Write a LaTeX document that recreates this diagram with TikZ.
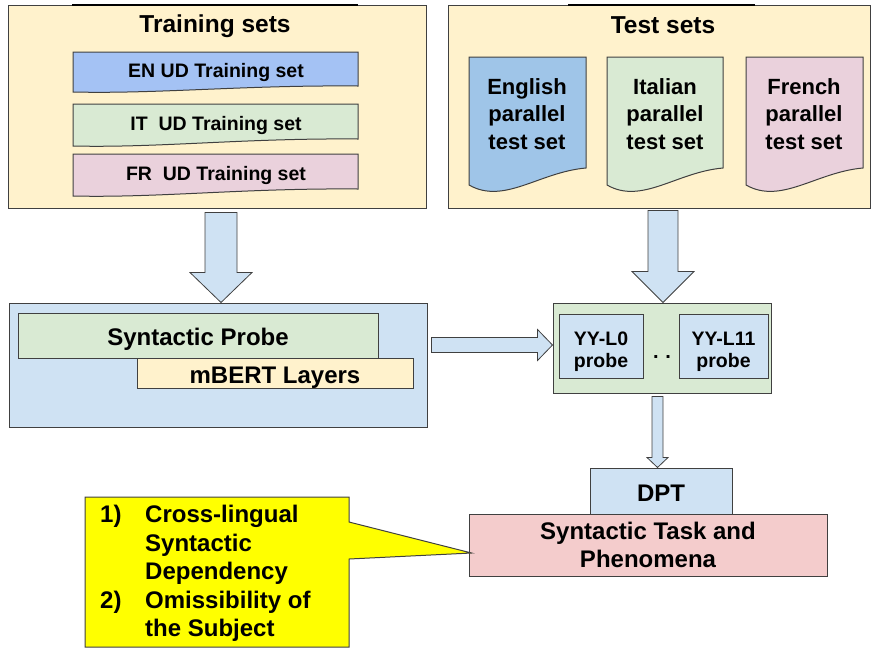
\documentclass[tikz,border=0pt]{standalone}
\usepackage{fontspec}
\setmainfont{Liberation Sans}
\usepackage{tikz}
\usetikzlibrary{calc, positioning}

\definecolor{paleyellow}{HTML}{FFF2CC}
\definecolor{barblue}{HTML}{A4C2F4}
\definecolor{docblue}{HTML}{9FC5E8}
\definecolor{palegreen}{HTML}{D9EAD3}
\definecolor{palepink}{HTML}{EAD1DC}
\definecolor{lightblue}{HTML}{CFE2F3}
\definecolor{taskpink}{HTML}{F4CCCC}
\definecolor{noteyellow}{HTML}{FFFF00}

\newcommand{\sizeat}[2]{\fontsize{#1}{#2}\selectfont\bfseries}
\tikzstyle{box} = [draw=black!75, line width=1pt, rectangle, inner sep=0pt, align=center, font=\sizeat{24}{28}]
\tikzstyle{edge} = [draw=black!75, line width=1pt]
\tikzstyle{label} = [inner sep=0pt, align=center]
\tikzstyle{capcentre} = [text height=20pt, text depth=0pt]
\tikzstyle{probebox} = [box, fill=lightblue, minimum height=64, text height=42pt, text depth=0pt, font=\sizeat{19.5}{22}]
\tikzstyle{fatarrow} = [draw=black!75, line width=0.8pt, fill=lightblue, line join=miter]

% bar with a slightly wavy lower edge: fill, x1, x2, top, bottom left, bottom right
\newcommand{\wavybar}[6]{%
  \filldraw[edge, fill=#1] (#2,#4) -- (#3,#4) -- (#3,#6)
    .. controls ({#2+0.6*(#3-#2)},{#6-1}) and ({#2+0.3*(#3-#2)},{#5+2}) .. (#2,#5) -- cycle;}
% document page: fill, x1, x2
\newcommand{\docpage}[3]{%
  \filldraw[edge, fill=#1] (#2,57) -- (#3,57) -- (#3,168)
    .. controls ({#2+0.6*(#3-#2)},172) and ({#2+0.3*(#3-#2)},205) .. (#2,185) -- cycle;}
% block arrows: start, target, half shaft, half head, head length
\newcommand{\fatdown}[5]{%
  \filldraw[fatarrow] let \p1=#1, \p2=#2 in
    (\x1-#3pt,\y1) -- (\x1+#3pt,\y1) -- (\x1+#3pt,\y2+#5pt) -- (\x1+#4pt,\y2+#5pt)
    -- (\x1,\y2) -- (\x1-#4pt,\y2+#5pt) -- (\x1-#3pt,\y2+#5pt) -- cycle;}
\newcommand{\fatright}[5]{%
  \filldraw[fatarrow] let \p1=#1, \p2=#2 in
    (\x1,\y1+#3pt) -- (\x2-#5pt,\y1+#3pt) -- (\x2-#5pt,\y1+#4pt) -- (\x2,\y1)
    -- (\x2-#5pt,\y1-#4pt) -- (\x2-#5pt,\y1-#3pt) -- (\x1,\y1-#3pt) -- cycle;}

\begin{document}
\begin{tikzpicture}[x=1pt, y=-1pt]
    \useasboundingbox (0,0) rectangle (872,649);

    % data sets
    \node[box, fill=paleyellow, minimum width=418, minimum height=203] (train) at (217,106.5) {};
    \node[box, fill=paleyellow, minimum width=422, minimum height=203] (test) at (659,106.5) {};
    \draw[line width=2pt] (72,5) -- (358,5);
    \draw[line width=2pt] (568,5) -- (755,5);
    \node[label, text height=17.5pt, text depth=0pt, font=\sizeat{24.5}{28}] (trainhead) at (215,23.7) {Training sets};
    \node[label, text height=17.5pt, text depth=0pt, font=\sizeat{24.5}{28}] (testhead) at (663,25) {Test sets};

    \wavybar{barblue}{73}{358}{52}{92}{86}
    \wavybar{palegreen}{73}{358}{104}{146}{139}
    \wavybar{palepink}{73}{358}{154}{196}{189}
    \tikzset{bartext/.style={label, text height=14pt, text depth=0pt, font=\sizeat{19.5}{23}}}
    \node[bartext] (entrain) at (216,70.3) {EN UD Training set};
    \node[bartext] (ittrain) at (216,123) {IT~~UD Training set};
    \node[bartext] (frtrain) at (216,173) {FR~~UD Training set};

    \docpage{docblue}{469}{586}
    \docpage{palegreen}{607}{723}
    \docpage{palepink}{746}{863}
    \node[label, font=\sizeat{22}{27.5}] (entest) at (527,114) {English\\parallel\\test set};
    \node[label, font=\sizeat{22}{27.5}] (ittest) at (665,114) {Italian\\parallel\\test set};
    \node[label, font=\sizeat{22}{27.5}] (frtest) at (804,114) {French\\parallel\\test set};

    % probing
    \node[box, fill=lightblue, minimum width=418, minimum height=124] (probeout) at (218,365) {};
    \node[box, capcentre, fill=palegreen, minimum width=360, minimum height=45] (synprobe) at (198,335.5) {Syntactic Probe};
    \node[box, capcentre, fill=paleyellow, minimum width=276, minimum height=30] (mbert) at (275,373) {mBERT Layers};

    \node[box, fill=palegreen, minimum width=218, minimum height=90] (yyset) at (662,348) {};
    \node[probebox, minimum width=84] (yyfirst) at (601,346) {YY-L0\\probe};
    \node[probebox, minimum width=89] (yylast) at (723.5,346) {YY-L11\\probe};
    \node[label, font=\sizeat{20}{22}, anchor=base] (dots) at (662,358) {.\,\,.};

    \fatdown{($(train.south)+(4,4)$)}{(probeout.north)}{16}{31}{30}
    \fatdown{($(test.south)+(4,2)$)}{(yyset.north)}{15}{31}{31}
    \fatright{($(probeout.east)+(4,-20)$)}{(yyset.west)}{7.5}{15.5}{15}

    % evaluation
    \node[box, capcentre, fill=lightblue, minimum width=142, minimum height=46] (dpt) at (661,491) {DPT};
    \node[box, fill=taskpink, minimum width=358, minimum height=62] (task) at (648,545) {Syntactic Task and\\Phenomena};
    \fatdown{($(yyset.south)+(-4.5,3)$)}{(dpt.north)}{5.5}{10.5}{10}

    \coordinate (calltip) at ($(task.west)+(3,8)$);
    \filldraw[edge, fill=noteyellow] (85,497) -- (349,497) -- (349,522) -- (calltip)
        -- (349,559) -- (349,647) -- (85,647) -- cycle;
    \node[label, align=left, anchor=north west, font=\sizeat{24}{28.5}] (phenomena) at (100,505)
        {\makebox[45pt][l]{1)}Cross-lingual\\\hspace*{45pt}Syntactic\\\hspace*{45pt}Dependency\\
         \makebox[45pt][l]{2)}Omissibility of\\\hspace*{45pt}the Subject};
\end{tikzpicture}
\end{document}
